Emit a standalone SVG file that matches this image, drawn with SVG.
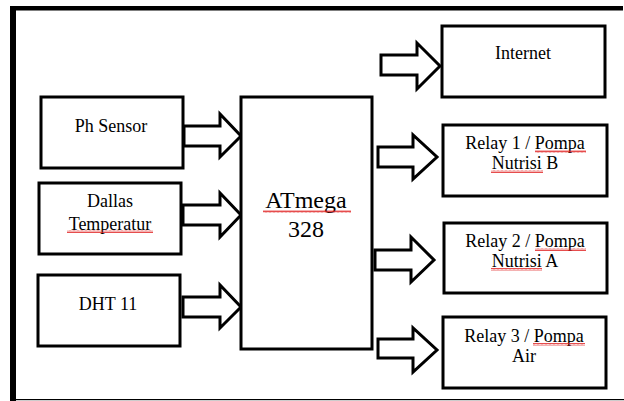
<svg xmlns="http://www.w3.org/2000/svg" width="624" height="401" viewBox="0 0 624 401">
<style>
.box{fill:#fff;stroke:#000;stroke-width:3}
.arr{fill:#fff;stroke:#000;stroke-width:3;stroke-linejoin:miter}
.t{font-family:"Liberation Serif","Times New Roman",serif;font-size:18px;fill:#000;text-anchor:middle}
.big{font-size:24px}
.sq{fill:url(#wave)}
</style>
<defs>
<pattern id="wave" width="4" height="3" patternUnits="userSpaceOnUse">
<path d="M0,2.5 L1,0.5 L2,2.5 L3,0.5 L4,2.5" fill="none" stroke="#e02020" stroke-width="0.8"/>
</pattern>
</defs>
<rect width="624" height="401" fill="#fff"/>
<g id="frame">
<rect x="10" y="6" width="6" height="395" fill="#000"/>
<rect x="10" y="6" width="613" height="4.5" fill="#000"/>
<rect x="16" y="399" width="608" height="1.2" fill="#000"/>
</g>
<g id="connectors">
<polygon class="arr" points="184,126 220,126 220,114 241,136 220,157 220,146 184,146"/>
<polygon class="arr" points="183,205 220,205 220,193 241,215 220,237 220,225 183,225"/>
<polygon class="arr" points="183,297 220,297 220,285 241,307 220,328 220,317 183,317"/>
<polygon class="arr" points="381,55 417,55 417,43 440,66 417,89 417,75 381,75"/>
<polygon class="arr" points="378,147 413,147 413,135 437,157 413,179 413,167 378,167"/>
<polygon class="arr" points="375,250 411,250 411,237 434,260 411,282 411,270 375,270"/>
<polygon class="arr" points="378,339 413,339 413,328 437,350 413,372 413,358 378,358"/>
</g>
<g id="ph">
<rect class="box" x="41" y="97" width="142" height="71"/>
<text class="t" x="111" y="132">Ph Sensor</text>
</g>
<g id="dallas">
<rect class="box" x="39" y="183" width="142" height="71"/>
<text class="t" x="110" y="207">Dallas</text>
<text class="t" x="110" y="230">Temperatur</text>
<rect class="sq" x="67" y="230" width="86" height="3"/>
</g>
<g id="dht">
<rect class="box" x="38" y="275" width="142" height="71"/>
<text class="t" x="108" y="310">DHT 11</text>
</g>
<g id="atmega">
<rect class="box" x="241" y="97" width="131" height="252"/>
<text class="t big" x="306" y="208">ATmega</text>
<text class="t big" x="306" y="237">328</text>
<rect class="sq" x="263" y="210" width="88" height="3"/>
</g>
<g id="internet">
<rect class="box" x="442" y="26" width="163" height="71"/>
<text class="t" x="523" y="59">Internet</text>
</g>
<g id="relay1">
<rect class="box" x="443" y="125" width="164" height="71"/>
<text class="t" x="525" y="149">Relay 1 / Pompa</text>
<text class="t" x="525" y="169">Nutrisi B</text>
<rect class="sq" x="535" y="150" width="51" height="3"/>
<rect class="sq" x="491" y="170" width="52" height="3"/>
</g>
<g id="relay2">
<rect class="box" x="444" y="223" width="163" height="70"/>
<text class="t" x="525" y="247">Relay 2 / Pompa</text>
<text class="t" x="525" y="267">Nutrisi A</text>
<rect class="sq" x="535" y="248" width="51" height="3"/>
<rect class="sq" x="491" y="268" width="51" height="3"/>
</g>
<g id="relay3">
<rect class="box" x="443" y="317" width="163" height="71"/>
<text class="t" x="524" y="342">Relay 3 / Pompa</text>
<text class="t" x="524" y="362">Air</text>
<rect class="sq" x="533" y="343" width="52" height="3"/>
</g>
</svg>
